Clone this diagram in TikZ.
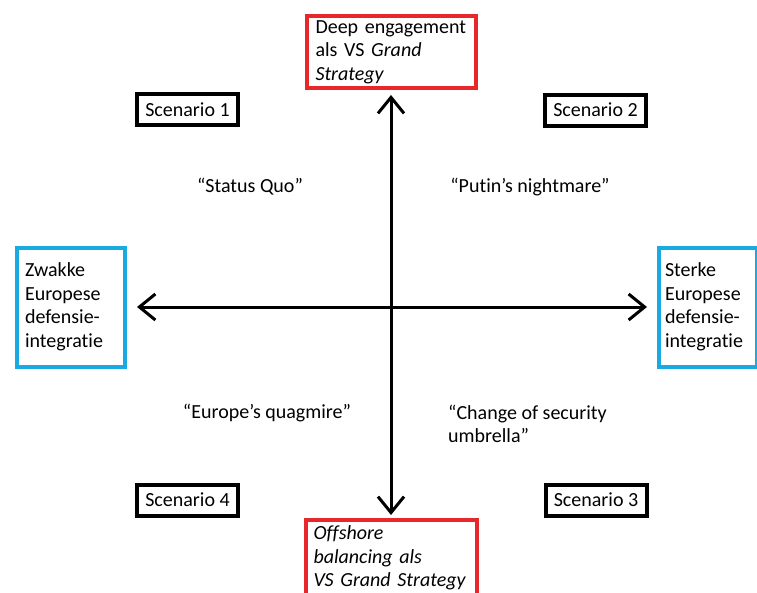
\documentclass[tikz,border=0pt]{standalone}
\usepackage{fontspec}
\setmainfont[Ligatures={NoCommon}]{Carlito}
\usetikzlibrary{arrows.meta}
\definecolor{axisred}{RGB}{230,40,45}
\definecolor{axisblue}{RGB}{25,170,225}
\tikzset{
    txt/.style={font=\fontsize{20}{23.5}\selectfont, inner sep=0pt},
    scenariobox/.style={txt, draw=black, line width=4pt, minimum width=101pt, minimum height=31pt},
    redbox/.style={txt, draw=axisred, line width=4pt, align=left, anchor=center},
    bluebox/.style={txt, draw=axisblue, line width=4pt, align=left, minimum height=119pt},
    axis/.style={line width=3pt, {Straight Barb[length=16pt, width=26pt]}-{Straight Barb[length=16pt, width=26pt]}}
}
\begin{document}
\begin{tikzpicture}[x=1pt, y=-1pt]
    \useasboundingbox[fill=white] (0, 0) rectangle (757, 592);
    \node[redbox, inner xsep=9pt, text width=151pt, minimum height=72pt] (deep) at (391, 52)
        {Deep engagement\\als VS \textit{Grand}\\\textit{Strategy}};
    \node[redbox, inner xsep=8pt, text width=155pt, minimum height=76pt] (offshore) at (391, 558)
        {\textit{Offshore}\\\textit{balancing als}\\\textit{VS Grand Strategy}};
    \node[bluebox, inner xsep=8pt, text width=92pt] (weak) at (71, 307)
        {Zwakke\\Europese\\defensie-\\integratie};
    \node[bluebox, inner xsep=6pt, text width=86pt] (strong) at (708, 307)
        {Sterke\\Europese\\defensie-\\integratie};
    \node[scenariobox] (sc1) at (187.5, 109.5) {Scenario 1};
    \node[scenariobox] (sc2) at (595.5, 110) {Scenario 2};
    \node[scenariobox] (sc3) at (596, 500) {Scenario 3};
    \node[scenariobox] (sc4) at (187.5, 500) {Scenario 4};
    \node[txt] (statusquo) at (250, 187) {“Status Quo”};
    \node[txt] (putin) at (530, 187) {“Putin’s nightmare”};
    \node[txt] (quagmire) at (267, 413) {“Europe’s quagmire”};
    \node[txt, align=left, anchor=west] (umbrella) at (448, 424) {“Change of security\\umbrella”};
    \draw[axis, shorten <=5pt, shorten >=3pt] (deep.south) -- (offshore.north);
    \draw[axis, shorten <=10pt, shorten >=10pt] (weak.east) -- (strong.west);
\end{tikzpicture}
\end{document}
